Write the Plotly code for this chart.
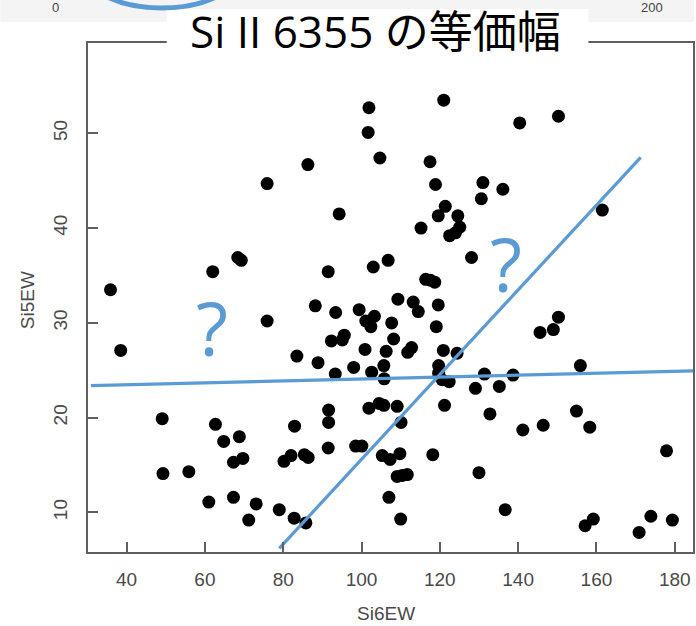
import plotly.graph_objects as go

# ---- data ----
si6ew = [101.9, 101.7, 104.7, 86.3, 75.9, 94.3, 68.4, 69.3, 62.0, 91.5,
         103.0, 35.9, 88.2, 93.4, 99.4, 101.1, 103.3, 102.4, 75.9, 121.0,
         140.4, 150.3, 117.5, 118.9, 131.0, 136.1, 130.6, 121.4, 119.6, 124.6,
         125.1, 124.0, 122.5, 115.2, 161.5, 128.1, 106.8, 116.4, 117.6, 118.7,
         109.3, 113.2, 114.5, 119.6, 107.7, 119.1, 150.3, 149.0, 145.6, 38.5,
         92.3, 95.1, 95.6, 83.5, 88.9, 93.3, 98.0, 100.9, 102.6, 49.1,
         62.7, 64.8, 68.8, 67.3, 69.7, 49.3, 55.9, 61.0, 67.3, 73.1,
         71.2, 79.0, 82.9, 80.2, 82.0, 85.4, 86.4, 91.6, 91.6, 91.5,
         98.5, 100.1, 101.9, 104.5, 105.7, 109.1, 121.2, 110.1, 82.8, 85.8,
         108.2, 106.3, 111.8, 112.8, 120.9, 124.4, 105.7, 119.7, 105.8, 119.7,
         120.6, 122.4, 131.4, 138.7, 129.1, 135.2, 155.9, 132.8, 141.2, 146.4,
         154.9, 158.3, 105.3, 107.3, 109.8, 118.2, 109.1, 110.4, 111.7, 130.0,
         107.0, 110.0, 136.7, 157.1, 159.2, 170.9, 173.9, 179.4, 177.9]
si5ew = [52.7, 50.1, 47.4, 46.7, 44.7, 41.5, 36.9, 36.6, 35.4, 35.4,
         35.9, 33.5, 31.8, 31.1, 31.4, 30.2, 30.7, 29.6, 30.2, 53.5,
         51.1, 51.8, 47.0, 44.6, 44.8, 44.1, 43.1, 42.3, 41.3, 41.3,
         40.1, 39.5, 39.2, 40.0, 41.9, 36.9, 36.6, 34.6, 34.5, 34.3,
         32.5, 32.2, 31.2, 31.9, 30.0, 29.6, 30.6, 29.3, 29.0, 27.1,
         28.1, 28.2, 28.7, 26.5, 25.8, 24.6, 25.3, 27.2, 24.8, 19.9,
         19.3, 17.5, 18.0, 15.3, 15.7, 14.1, 14.3, 11.1, 11.6, 10.9,
         9.2, 10.3, 19.1, 15.4, 16.0, 16.1, 15.8, 20.8, 19.5, 16.8,
         17.0, 17.0, 21.0, 21.5, 21.3, 21.2, 21.3, 19.5, 9.4, 8.9,
         28.3, 27.0, 26.9, 27.4, 27.1, 26.8, 25.5, 25.5, 24.1, 24.7,
         24.0, 23.8, 24.6, 24.5, 23.1, 23.3, 25.5, 20.4, 18.7, 19.2,
         20.7, 19.0, 16.0, 15.6, 16.2, 16.1, 13.8, 13.9, 14.0, 14.2,
         11.6, 9.3, 10.3, 8.6, 9.3, 7.9, 9.6, 9.2, 16.5]

x_ticks = [40, 60, 80, 100, 120, 140, 160, 180]
y_ticks = [10, 20, 30, 40, 50]

# overlay lines drawn on the slide (endpoints in data units)
flat_line_x = [30.9, 184.66]
flat_line_y = [23.38, 24.93]
steep_line_x = [79.0, 171.3]
steep_line_y = [6.22, 47.47]

title_text = "Si II 6355 の等価幅"
x_title = "Si6EW"
y_title = "Si5EW"
top_labels = ["0", "200"]

# ---- layout geometry ----
W, H = 696, 626
L, R, T, B = 88, 1, 43, 74
PW, PH = W - L - R, H - T - B


def px(xp):
    return (xp - L) / PW


def py(yp):
    return (H - B - yp) / PH


BLUE = "#5b9bd5"
AX = "#5f5f5f"

fig = go.Figure()
fig.add_trace(go.Scatter(x=si6ew, y=si5ew, mode="markers",
                         marker=dict(size=13, color="black"),
                         showlegend=False, hoverinfo="x+y"))
fig.add_trace(go.Scatter(x=flat_line_x, y=flat_line_y, mode="lines",
                         line=dict(color=BLUE, width=3.2),
                         showlegend=False, hoverinfo="skip"))
fig.add_trace(go.Scatter(x=steep_line_x, y=steep_line_y, mode="lines",
                         line=dict(color=BLUE, width=3.2),
                         showlegend=False, hoverinfo="skip"))

tickfont = dict(family="Liberation Sans, Arial, sans-serif", size=19, color="#4a4a4a")

fig.update_xaxes(range=[30.15, 184.66], tickvals=x_ticks, ticks="inside",
                 ticklen=10, tickwidth=2, tickcolor=AX, showline=True,
                 linecolor=AX, linewidth=2, mirror=True, showgrid=False,
                 zeroline=False, tickfont=tickfont, ticklabelstandoff=9)
fig.update_yaxes(range=[5.83, 59.53], tickvals=y_ticks, ticks="inside",
                 ticklen=10, tickwidth=2, tickcolor=AX, showline=True,
                 linecolor=AX, linewidth=2, mirror=True, showgrid=False,
                 zeroline=False, tickfont=tickfont, tickangle=-90,
                 ticklabelstandoff=11)

shapes = [
    # faint band at the very top (slide background)
    dict(type="rect", xref="paper", yref="paper", x0=px(0), x1=px(W),
         y0=py(22), y1=py(-2), fillcolor="#f4f4f4", line=dict(width=0),
         layer="above"),
    # white box behind the title
    dict(type="rect", xref="paper", yref="paper", x0=px(167), x1=px(590),
         y0=py(62), y1=py(9), fillcolor="white", line=dict(width=0),
         layer="above"),
    # partial blue circle at the top
    dict(type="circle", xref="paper", yref="paper", x0=px(88), x1=px(236),
         y0=py(8), y1=py(-60), line=dict(color=BLUE, width=5),
         fillcolor="rgba(0,0,0,0)", layer="above"),
]

annotations = [
    dict(text=title_text, xref="paper", yref="paper", x=px(376), y=py(31),
         xanchor="center", yanchor="middle", showarrow=False,
         font=dict(family="Open Sans, Noto Sans CJK JP, sans-serif", size=44,
                   color="black")),
    dict(text="?", xref="x", yref="y", x=61.7, y=29.5, showarrow=False,
         xanchor="center", yanchor="middle",
         font=dict(family="Open Sans, sans-serif", size=74, color=BLUE)),
    dict(text="?", xref="x", yref="y", x=136.8, y=36.3, showarrow=False,
         xanchor="center", yanchor="middle",
         font=dict(family="Open Sans, sans-serif", size=74, color=BLUE)),
    dict(text=x_title, xref="paper", yref="paper", x=px(387), y=py(613),
         xanchor="center", yanchor="middle", showarrow=False,
         font=dict(family="Liberation Sans, Arial, sans-serif", size=19,
                   color="#4a4a4a")),
    dict(text=y_title, xref="paper", yref="paper", x=px(27), y=py(300),
         xanchor="center", yanchor="middle", showarrow=False, textangle=-90,
         font=dict(family="Liberation Sans, Arial, sans-serif", size=19,
                   color="#4a4a4a")),
    dict(text=top_labels[0], xref="paper", yref="paper", x=px(55), y=py(-2),
         xanchor="center", yanchor="top", showarrow=False,
         font=dict(family="Liberation Sans, Arial, sans-serif", size=13,
                   color="#444444")),
    dict(text=top_labels[1], xref="paper", yref="paper", x=px(654), y=py(-2),
         xanchor="center", yanchor="top", showarrow=False,
         font=dict(family="Liberation Sans, Arial, sans-serif", size=13,
                   color="#444444")),
]

fig.update_layout(width=W, height=H, margin=dict(l=L, r=R, t=T, b=B, pad=0),
                  paper_bgcolor="white", plot_bgcolor="white",
                  shapes=shapes, annotations=annotations, showlegend=False)

fig.write_html("out.html")
